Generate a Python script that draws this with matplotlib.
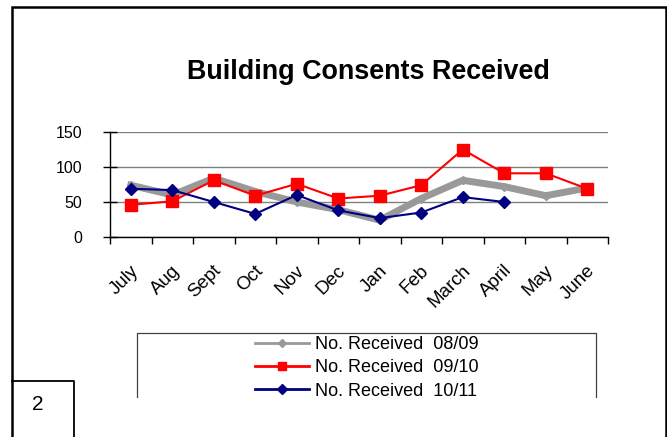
import matplotlib
matplotlib.use('Agg')
import matplotlib.pyplot as plt
import matplotlib.transforms as mtransforms
from matplotlib.lines import Line2D
from matplotlib.patches import Rectangle
import numpy as np

plt.rcParams['font.family'] = ['Liberation Sans', 'DejaVu Sans']

months = ['July', 'Aug', 'Sept', 'Oct', 'Nov', 'Dec', 'Jan', 'Feb',
          'March', 'April', 'May', 'June']
rec_0809 = [74, 60, 84, 65, 50, 39, 24, 55, 81, 72, 59, 70]
rec_0910 = [46, 51, 81, 59, 76, 55, 59, 74, 125, 91, 91, 69]
rec_1011 = [69, 67, 50, 33, 60, 38, 27, 35, 57, 50]
yticks = [0, 50, 100, 150]

W, H = 667, 437
fig = plt.figure(figsize=(W / 100, H / 100), dpi=100)

# main plot area (pixel layout from the reference)
ax = fig.add_axes([110 / W, 1 - 237 / H, 498 / W, 105 / H])
x = np.arange(len(months))
ax.plot(x, rec_0809, color='#999999', lw=5, marker='D', ms=4.5,
        mec='#999999', mfc='#999999', zorder=2, solid_joinstyle='round')
ax.plot(x, rec_0910, color='#ff0000', lw=1.5, marker='s', ms=9,
        mec='#ff0000', mfc='#ff0000', zorder=3)
ax.plot(x[:len(rec_1011)], rec_1011, color='#000080', lw=1.5, marker='D',
        ms=6.5, mec='#000080', mfc='#000080', zorder=4)

ax.set_xlim(-0.5, len(months) - 0.5)
ax.set_ylim(0, 150)
ax.set_yticks(yticks)
ax.set_yticklabels([str(v) for v in yticks], fontsize=11.5)
ax.yaxis.grid(True, color='#808080', lw=1)
ax.set_axisbelow(True)
ax.tick_params(axis='y', direction='inout', length=10, width=1, pad=15)

# category boundary ticks + centred labels
ax.set_xticks(np.arange(len(months) + 1) - 0.5)
ax.set_xticklabels([])
ax.set_xticks(x, minor=True)
ax.set_xticklabels(months, minor=True, rotation=45, ha='right', va='top',
                   fontsize=13.5)
ax.tick_params(axis='x', which='major', direction='out', length=5, width=1)
ax.tick_params(axis='x', which='minor', length=0, pad=18)
shift = mtransforms.ScaledTranslation(0.11, 0, fig.dpi_scale_trans)
for lab in ax.get_xticklabels(minor=True):
    lab.set_transform(lab.get_transform() + shift)

for s in ['top', 'right']:
    ax.spines[s].set_visible(False)
for s in ['left', 'bottom']:
    ax.spines[s].set_color('black')
    ax.spines[s].set_linewidth(1)

fig.text(368 / W, 1 - 79 / H, 'Building Consents Received', ha='center',
         va='baseline', fontsize=19.4, fontweight='bold')

handles = [
    Line2D([], [], color='#999999', lw=2, marker='D', ms=4.5),
    Line2D([], [], color='#ff0000', lw=2, marker='s', ms=6),
    Line2D([], [], color='#000080', lw=2, marker='D', ms=5),
]
labels = ['No. Received  08/09', 'No. Received  09/10', 'No. Received  10/11']
ax.legend(handles, labels, loc='upper left',
          bbox_to_anchor=(255 / W, 1 - 336 / H),
          bbox_transform=fig.transFigure, frameon=False, fontsize=13,
          borderpad=0, borderaxespad=0, handlelength=3.0,
          handletextpad=0.35, labelspacing=0.35)

# page decorations drawn in pixel space
deco = fig.add_axes([0, 0, 1, 1], zorder=5)
deco.set_xlim(0, W)
deco.set_ylim(H, 0)
deco.axis('off')
deco.patch.set_visible(False)
# cut-off region below the legend
deco.add_patch(Rectangle((80, 397.5), 570, 40, color='white', zorder=1))
# outer page frame
deco.plot([12, 12, 666, 666], [H, 7, 7, H], color='black', lw=1.8,
          solid_joinstyle='miter', zorder=3)
# legend frame (bottom clipped)
deco.plot([137, 137, 596, 596], [397, 333, 333, 397], color='#404040',
          lw=0.9, zorder=3)
# page number box
deco.plot([12, 74, 74], [381, 381, H], color='black', lw=1.3, zorder=3)
deco.text(38, 404, '2', ha='center', va='center', fontsize=15, zorder=3)

fig.savefig('out.png', dpi=100)
